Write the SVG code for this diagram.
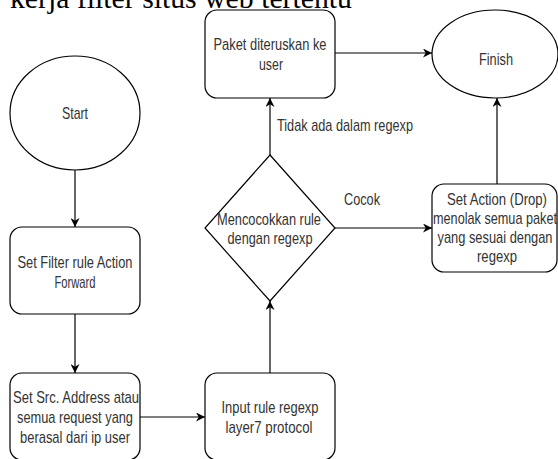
<svg xmlns="http://www.w3.org/2000/svg" width="558" height="459" viewBox="0 0 558 459">
<style>
.n{fill:#fff;stroke:#000;stroke-width:1.2}
.t{font-family:"Liberation Sans",Arial,sans-serif;font-size:17px;fill:#333;text-anchor:middle}
.l{font-family:"Liberation Sans",Arial,sans-serif;font-size:17px;fill:#333}
.c{fill:none;stroke:#000;stroke-width:1.2}
</style>
<defs>
<marker id="a" viewBox="0 0 10 10" refX="10" refY="5" markerUnits="userSpaceOnUse" markerWidth="9" markerHeight="9" orient="auto">
<path d="M0,0 L10,5 L0,10 L3,5 Z" fill="#000"/>
</marker>
</defs>
<rect width="558" height="459" fill="#fff"/>
<text x="10" y="8" font-family="'Liberation Serif','Times New Roman',serif" font-size="30" fill="#000" textLength="342" lengthAdjust="spacingAndGlyphs">kerja filter situs web tertentu</text>
<g id="connectors">
<path class="c" d="M75,170 L75,227" marker-end="url(#a)"/>
<path class="c" d="M75,314 L75,373" marker-end="url(#a)"/>
<path class="c" d="M140,417 L205,417" marker-end="url(#a)"/>
<path class="c" d="M270,373 L270,301" marker-end="url(#a)"/>
<path class="c" d="M270,155 L270,98" marker-end="url(#a)"/>
<path class="c" d="M335,53 L432,53" marker-end="url(#a)"/>
<path class="c" d="M335,228 L432,228" marker-end="url(#a)"/>
<path class="c" d="M497,184 L497,98" marker-end="url(#a)"/>
<text class="l" x="277" y="131" textLength="136" lengthAdjust="spacingAndGlyphs">Tidak ada dalam regexp</text>
<text class="l" x="344" y="205" textLength="36" lengthAdjust="spacingAndGlyphs">Cocok</text>
</g>
<g id="start">
<ellipse class="n" cx="75" cy="113" rx="65" ry="57"/>
<text class="t" x="75" y="119" textLength="26" lengthAdjust="spacingAndGlyphs">Start</text>
</g>
<g id="setFilter">
<rect class="n" x="10" y="227" width="130" height="87" rx="12"/>
<text class="t" x="75" y="268" textLength="115" lengthAdjust="spacingAndGlyphs">Set Filter rule Action</text>
<text class="t" x="75" y="288" textLength="41" lengthAdjust="spacingAndGlyphs">Forward</text>
</g>
<g id="setSrc">
<rect class="n" x="10" y="373" width="130" height="87" rx="12"/>
<text class="t" x="76" y="403" textLength="126" lengthAdjust="spacingAndGlyphs">Set Src. Address atau</text>
<text class="t" x="75" y="423" textLength="116" lengthAdjust="spacingAndGlyphs">semua request yang</text>
<text class="t" x="75" y="443" textLength="110" lengthAdjust="spacingAndGlyphs">berasal dari ip user</text>
</g>
<g id="inputRule">
<rect class="n" x="205" y="373" width="130" height="87" rx="12"/>
<text class="t" x="270" y="413" textLength="97" lengthAdjust="spacingAndGlyphs">Input rule regexp</text>
<text class="t" x="269" y="433" textLength="87" lengthAdjust="spacingAndGlyphs">layer7 protocol</text>
</g>
<g id="decision">
<polygon class="n" points="270,155 335,228 270,301 205,228"/>
<text class="t" x="269" y="225" textLength="104" lengthAdjust="spacingAndGlyphs">Mencocokkan rule</text>
<text class="t" x="270" y="244" textLength="85" lengthAdjust="spacingAndGlyphs">dengan regexp</text>
</g>
<g id="paket">
<rect class="n" x="205" y="10" width="130" height="88" rx="12"/>
<text class="t" x="270" y="50" textLength="113" lengthAdjust="spacingAndGlyphs">Paket diteruskan ke</text>
<text class="t" x="271" y="70" textLength="24" lengthAdjust="spacingAndGlyphs">user</text>
</g>
<g id="finish">
<ellipse class="n" cx="495" cy="54" rx="63" ry="44"/>
<text class="t" x="496" y="65" textLength="34" lengthAdjust="spacingAndGlyphs">Finish</text>
</g>
<g id="drop">
<rect class="n" x="432" y="184" width="125" height="88" rx="12"/>
<text class="t" x="497" y="205" textLength="100" lengthAdjust="spacingAndGlyphs">Set Action (Drop)</text>
<text class="t" x="495" y="224" textLength="124" lengthAdjust="spacingAndGlyphs">menolak semua paket</text>
<text class="t" x="495" y="243" textLength="115" lengthAdjust="spacingAndGlyphs">yang sesuai dengan</text>
<text class="t" x="497" y="262" textLength="40" lengthAdjust="spacingAndGlyphs">regexp</text>
</g>
</svg>
